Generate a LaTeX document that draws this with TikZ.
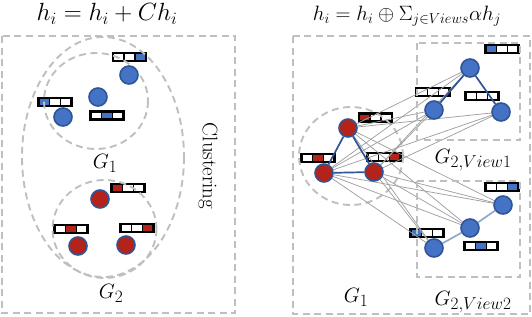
\documentclass[tikz,border=0pt]{standalone}
\usetikzlibrary{calc}
\DeclareMathSizes{21}{21}{17}{13}
\definecolor{nblue}{HTML}{4472C4}
\definecolor{nborder}{HTML}{2F5597}
\definecolor{nred}{HTML}{B3231A}
\definecolor{dgray}{HTML}{BFBFBF}
\definecolor{egray}{HTML}{A0A0A0}
\definecolor{lblue}{HTML}{8EA9CC}
\pgfdeclarelayer{bars}
\pgfdeclarelayer{edges}
\pgfsetlayers{bars,edges,main}
\begin{document}
\begin{tikzpicture}[x=1pt,y=-1pt,
  bnode/.style={circle, fill=nblue, draw=nborder, line width=1.6pt, minimum size=18pt, inner sep=0pt},
  rnode/.style={bnode, fill=nred},
  dashbox/.style={draw=dgray, line width=1.9pt, dash pattern=on 7pt off 4.5pt},
  fvec/.style n args={3}{draw=black, line width=2.4pt, minimum width=33pt, minimum height=8pt, inner sep=0pt, fill=white,
    path picture={
      \coordinate (ppsw) at (path picture bounding box.south west);
      \coordinate (ppse) at (path picture bounding box.south east);
      \coordinate (ppnw) at (path picture bounding box.north west);
      \coordinate (ppne) at (path picture bounding box.north east);
      \fill[#1] (ppsw) rectangle ($(ppnw)!0.3333!(ppne)$);
      \fill[#2] ($(ppsw)!0.3333!(ppse)$) rectangle ($(ppnw)!0.6667!(ppne)$);
      \fill[#3] ($(ppsw)!0.6667!(ppse)$) rectangle (ppne);
      \draw[black, line width=1.8pt] ($(ppsw)!0.3333!(ppse)$) -- ($(ppnw)!0.3333!(ppne)$);
      \draw[black, line width=1.8pt] ($(ppsw)!0.6667!(ppse)$) -- ($(ppnw)!0.6667!(ppne)$);
    }},
  gedge/.style={draw=egray, line width=0.75pt},
  tedge/.style={draw=nborder, line width=1.7pt},
  ledge/.style={draw=lblue, line width=1.7pt},
  ttl/.style={font=\fontsize{24}{26}\selectfont, anchor=base},
  ttlb/.style={font=\fontsize{22}{24}\selectfont, anchor=base},
  lbl/.style={font=\fontsize{21}{24}\selectfont},
  vtxt/.style={font=\fontsize{21}{23}\selectfont, rotate=-90}
]
\useasboundingbox (0,0) rectangle (532,316);

% titles
\node[ttl] (t1) at (107,20.5) {$h_i = h_i + C h_i$};
\node[ttlb] (t2) at (407,20.5) {$h_i = h_i \oplus \Sigma_{j\in Views}\alpha h_j$};

% frames
\draw[dashbox] (2,36) rectangle (235,313);
\draw[dashbox] (293,36) rectangle (530,314);
\draw[dashbox] (417,43) rectangle (520,140);
\draw[dashbox] (417,181) rectangle (520,277);

% ---------- left panel ----------
\node[bnode] (a1) at (129,75) {};
\node[bnode] (a2) at (98,97) {};
\node[bnode] (a3) at (63,117) {};
\node[rnode] (c1) at (100,199) {};
\node[rnode] (c2) at (78,246) {};
\node[rnode] (c3) at (126,245) {};

\begin{pgfonlayer}{bars}
\node[fvec={white}{white}{nblue}] (fa1) at (129.5,57) {};
\node[fvec={nblue}{white}{white}] (fa3) at (55,102) {};
\node[fvec={white}{nblue}{white}] (fa2) at (107,115.5) {};
\node[fvec={nred}{white}{white}] (fc1) at (128,188) {};
\node[fvec={white}{nred}{white}] (fc2) at (71,229) {};
\node[fvec={white}{white}{nred}] (fc3) at (137,228) {};
\end{pgfonlayer}

\begin{pgfonlayer}{edges}
\draw[dashbox] (103,157) ellipse [x radius=81, y radius=120];
\draw[dashbox] (96,101) ellipse [x radius=52, y radius=48];
\draw[dashbox] (104.5,229) ellipse [x radius=52, y radius=49];
\end{pgfonlayer}

\node[lbl] (g1) at (105,163) {$G_1$};
\node[lbl] (g2) at (111,293) {$G_2$};
\node[vtxt] (clu) at (208,166) {Clustering};

% ---------- right panel ----------
\node[rnode] (rt) at (348,128) {};
\node[rnode] (rl) at (324,173) {};
\node[rnode] (rr) at (374,172) {};
\node[bnode] (ut) at (470,68) {};
\node[bnode] (ul) at (434,110) {};
\node[bnode] (ur) at (501,112) {};
\node[bnode] (wr) at (503,205) {};
\node[bnode] (wm) at (470,228) {};
\node[bnode] (wl) at (434,248) {};

\begin{pgfonlayer}{bars}
\node[fvec={nred}{white}{white}] (frt) at (375.5,117.5) {};
\node[fvec={white}{nred}{white}] (frl) at (318,158) {};
\node[fvec={white}{white}{nred}] (frr) at (384,157) {};
\node[fvec={nblue}{white}{white}] (fut) at (502,49) {};
\node[fvec={white}{white}{white}] (ful) at (433,92) {};
\node[fvec={white}{white}{white}] (fur) at (482,96) {};
\node[fvec={white}{white}{nblue}] (fwr) at (502,187) {};
\node[fvec={nblue}{white}{white}] (fwl) at (427,233) {};
\node[fvec={white}{nblue}{white}] (fwm) at (481,246) {};
\end{pgfonlayer}

\begin{pgfonlayer}{edges}
\draw[dashbox] (351,156) ellipse [x radius=52, y radius=49];
\foreach \r in {rt,rl,rr}{
  \foreach \b in {ut,ul,ur,wr,wm,wl}{
    \draw[gedge] (\r) -- (\b);
  }
}
\draw[tedge] (rt) -- (rl);
\draw[tedge] (rt) -- (rr);
\draw[tedge] (rl) -- (rr);
\draw[tedge] (ut) -- (ul);
\draw[tedge] (ut) -- (ur);
\draw[ledge] (wr) -- (wm);
\draw[ledge] (wm) -- (wl);
\end{pgfonlayer}

\node[lbl] (h1) at (356,297) {$G_1$};
\node[lbl] (h2) at (473,160) {$G_{2,View1}$};
\node[lbl] (h3) at (473,302) {$G_{2,View2}$};
\end{tikzpicture}
\end{document}
